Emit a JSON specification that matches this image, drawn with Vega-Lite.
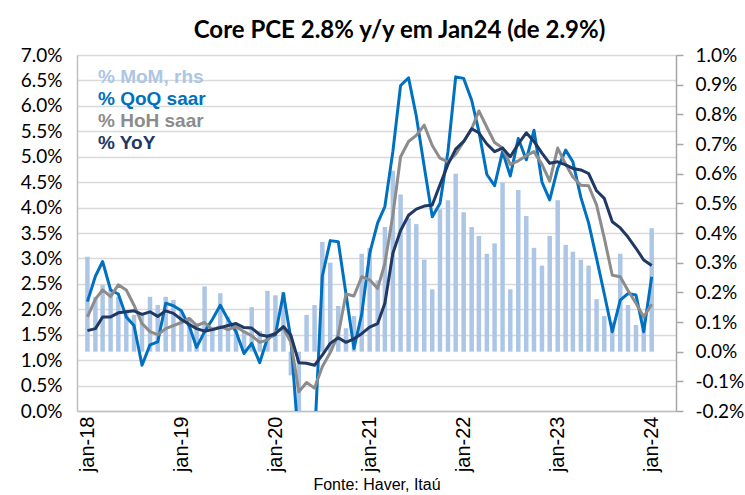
{
"$schema": "https://vega.github.io/schema/vega-lite/v6.json",
"width": 599, "height": 356,
"autosize": {"type": "none"},
"padding": {"left": 77, "top": 55, "right": 69, "bottom": 84},
"background": "white",
"config": {"view": {"stroke": null}, "font": "Lato"},
"title": {"text": "Core PCE 2.8% y/y em Jan24 (de 2.9%)", "font": "Lato", "fontSize": 24, "fontWeight": "bold", "color": "#000000", "anchor": "middle", "frame": "group", "dx": 23, "offset": 3},
"data": {"values": [
{"date":"2018-01","mom":0.32,"qoq":2.15,"hoh":1.85,"yoy":1.58},
{"date":"2018-02","mom":0.185,"qoq":2.65,"hoh":2.2,"yoy":1.62},
{"date":"2018-03","mom":0.225,"qoq":2.94,"hoh":2.38,"yoy":1.85},
{"date":"2018-04","mom":0.21,"qoq":2.38,"hoh":2.25,"yoy":1.85},
{"date":"2018-05","mom":0.185,"qoq":2.3,"hoh":2.48,"yoy":1.93},
{"date":"2018-06","mom":0.14,"qoq":1.85,"hoh":2.38,"yoy":1.95},
{"date":"2018-07","mom":0.124,"qoq":1.68,"hoh":2.08,"yoy":1.97},
{"date":"2018-08","mom":0.13,"qoq":0.9,"hoh":1.72,"yoy":1.9},
{"date":"2018-09","mom":0.185,"qoq":1.3,"hoh":1.56,"yoy":1.95},
{"date":"2018-10","mom":0.157,"qoq":1.36,"hoh":1.5,"yoy":1.86},
{"date":"2018-11","mom":0.185,"qoq":2.12,"hoh":1.62,"yoy":1.97},
{"date":"2018-12","mom":0.174,"qoq":2.07,"hoh":1.68,"yoy":1.92},
{"date":"2019-01","mom":0.135,"qoq":1.97,"hoh":1.74,"yoy":1.8},
{"date":"2019-02","mom":0.11,"qoq":1.66,"hoh":1.82,"yoy":1.7},
{"date":"2019-03","mom":0.096,"qoq":1.25,"hoh":1.68,"yoy":1.62},
{"date":"2019-04","mom":0.22,"qoq":1.56,"hoh":1.74,"yoy":1.57},
{"date":"2019-05","mom":0.084,"qoq":1.8,"hoh":1.6,"yoy":1.6},
{"date":"2019-06","mom":0.197,"qoq":2.08,"hoh":1.66,"yoy":1.64},
{"date":"2019-07","mom":0.118,"qoq":1.8,"hoh":1.6,"yoy":1.68},
{"date":"2019-08","mom":0.096,"qoq":1.56,"hoh":1.66,"yoy":1.72},
{"date":"2019-09","mom":0.067,"qoq":1.13,"hoh":1.56,"yoy":1.64},
{"date":"2019-10","mom":0.15,"qoq":1.33,"hoh":1.48,"yoy":1.63},
{"date":"2019-11","mom":0.07,"qoq":0.95,"hoh":1.35,"yoy":1.5},
{"date":"2019-12","mom":0.205,"qoq":1.43,"hoh":1.4,"yoy":1.47},
{"date":"2020-01","mom":0.19,"qoq":1.5,"hoh":1.55,"yoy":1.52},
{"date":"2020-02","mom":0.2,"qoq":2.31,"hoh":1.63,"yoy":1.66},
{"date":"2020-03","mom":-0.08,"qoq":1.42,"hoh":1.35,"yoy":1.49},
{"date":"2020-04","mom":-0.45,"qoq":-0.7,"hoh":0.38,"yoy":0.95},
{"date":"2020-05","mom":0.124,"qoq":-1.0,"hoh":0.56,"yoy":0.94},
{"date":"2020-06","mom":0.157,"qoq":-0.56,"hoh":0.45,"yoy":0.9},
{"date":"2020-07","mom":0.37,"qoq":2.65,"hoh":0.87,"yoy":1.1},
{"date":"2020-08","mom":0.30,"qoq":3.35,"hoh":1.15,"yoy":1.33},
{"date":"2020-09","mom":0.154,"qoq":3.33,"hoh":1.5,"yoy":1.44},
{"date":"2020-10","mom":0.079,"qoq":2.3,"hoh":2.3,"yoy":1.35},
{"date":"2020-11","mom":0.12,"qoq":1.23,"hoh":2.26,"yoy":1.42},
{"date":"2020-12","mom":0.33,"qoq":1.9,"hoh":2.64,"yoy":1.52},
{"date":"2021-01","mom":0.35,"qoq":3.1,"hoh":2.58,"yoy":1.65},
{"date":"2021-02","mom":0.24,"qoq":3.7,"hoh":2.41,"yoy":1.72},
{"date":"2021-03","mom":0.42,"qoq":4.02,"hoh":2.9,"yoy":2.12},
{"date":"2021-04","mom":0.61,"qoq":5.1,"hoh":3.85,"yoy":3.1},
{"date":"2021-05","mom":0.53,"qoq":6.4,"hoh":5.0,"yoy":3.55},
{"date":"2021-06","mom":0.45,"qoq":6.55,"hoh":5.3,"yoy":3.85},
{"date":"2021-07","mom":0.43,"qoq":5.8,"hoh":5.42,"yoy":3.97},
{"date":"2021-08","mom":0.31,"qoq":4.8,"hoh":5.62,"yoy":4.03},
{"date":"2021-09","mom":0.21,"qoq":3.82,"hoh":5.22,"yoy":4.05},
{"date":"2021-10","mom":0.48,"qoq":4.08,"hoh":4.97,"yoy":4.45},
{"date":"2021-11","mom":0.51,"qoq":5.1,"hoh":4.9,"yoy":4.85},
{"date":"2021-12","mom":0.60,"qoq":6.57,"hoh":5.05,"yoy":5.15},
{"date":"2022-01","mom":0.47,"qoq":6.54,"hoh":5.3,"yoy":5.3},
{"date":"2022-02","mom":0.42,"qoq":6.11,"hoh":5.55,"yoy":5.55},
{"date":"2022-03","mom":0.39,"qoq":5.5,"hoh":5.9,"yoy":5.47},
{"date":"2022-04","mom":0.33,"qoq":4.65,"hoh":5.58,"yoy":5.25},
{"date":"2022-05","mom":0.365,"qoq":4.43,"hoh":5.28,"yoy":5.1},
{"date":"2022-06","mom":0.57,"qoq":5.1,"hoh":5.17,"yoy":5.17},
{"date":"2022-07","mom":0.21,"qoq":4.62,"hoh":4.85,"yoy":5.0},
{"date":"2022-08","mom":0.545,"qoq":5.36,"hoh":4.92,"yoy":5.25},
{"date":"2022-09","mom":0.457,"qoq":4.94,"hoh":5.02,"yoy":5.47},
{"date":"2022-10","mom":0.35,"qoq":5.52,"hoh":5.1,"yoy":5.3},
{"date":"2022-11","mom":0.29,"qoq":4.5,"hoh":4.85,"yoy":5.07},
{"date":"2022-12","mom":0.39,"qoq":4.15,"hoh":4.52,"yoy":4.87},
{"date":"2023-01","mom":0.51,"qoq":4.77,"hoh":5.17,"yoy":4.9},
{"date":"2023-02","mom":0.36,"qoq":5.13,"hoh":4.85,"yoy":4.84},
{"date":"2023-03","mom":0.337,"qoq":4.9,"hoh":4.6,"yoy":4.77},
{"date":"2023-04","mom":0.31,"qoq":4.2,"hoh":4.44,"yoy":4.74},
{"date":"2023-05","mom":0.29,"qoq":3.7,"hoh":4.43,"yoy":4.67},
{"date":"2023-06","mom":0.177,"qoq":3.0,"hoh":4.05,"yoy":4.33},
{"date":"2023-07","mom":0.12,"qoq":2.3,"hoh":3.4,"yoy":4.18},
{"date":"2023-08","mom":0.10,"qoq":1.56,"hoh":2.67,"yoy":3.72},
{"date":"2023-09","mom":0.33,"qoq":2.18,"hoh":2.64,"yoy":3.6},
{"date":"2023-10","mom":0.157,"qoq":2.31,"hoh":2.37,"yoy":3.42},
{"date":"2023-11","mom":0.09,"qoq":2.28,"hoh":2.12,"yoy":3.2},
{"date":"2023-12","mom":0.12,"qoq":1.56,"hoh":1.85,"yoy":2.97},
{"date":"2024-01","mom":0.416,"qoq":2.64,"hoh":2.1,"yoy":2.86}
]},
"transform": [{"fold": ["mom", "qoq", "hoh", "yoy"], "as": ["series", "value"]}],
"layer": [
{
"transform": [{"filter": "datum.series === 'mom'"}],
"mark": {"type": "bar", "width": 4.5, "clip": true},
"encoding": {
"x": {"field": "date", "type": "temporal",
"scale": {"type": "utc", "domain": [{"year": 2017, "month": 12, "date": 11, "utc": true}, {"year": 2024, "month": 3, "date": 16, "utc": true}]},
"axis": {"values": [{"year": 2018, "month": 1, "date": 1, "utc": true}, {"year": 2019, "month": 1, "date": 1, "utc": true}, {"year": 2020, "month": 1, "date": 1, "utc": true}, {"year": 2021, "month": 1, "date": 1, "utc": true}, {"year": 2022, "month": 1, "date": 1, "utc": true}, {"year": 2023, "month": 1, "date": 1, "utc": true}, {"year": 2024, "month": 1, "date": 1, "utc": true}],
"labelExpr": "'jan-' + utcFormat(datum.value, '%y')",
"labelAngle": -90, "labelFont": "Liberation Sans", "labelFontSize": 20, "labelColor": "#000000", "labelPadding": 5,
"labelOverlap": false, "labelFlush": false, "ticks": false, "grid": false,
"domainColor": "#BFBFBF", "domainWidth": 1.5,
"title": "Fonte: Haver, Itaú", "titleFont": "Liberation Sans", "titleFontSize": 16, "titleFontWeight": "normal", "titleColor": "#000000", "titlePadding": 5}},
"y": {"field": "value", "type": "quantitative",
"scale": {"domain": [-0.2, 1.0], "nice": false},
"axis": {"orient": "right", "values": [-0.2, -0.1, 0, 0.1, 0.2, 0.3, 0.4, 0.5, 0.6, 0.7, 0.8, 0.9, 1.0],
"labelExpr": "replace(format(datum.value, '.1f'), '\u2212', '-') + '%'", "labelAlign": "left", "labelFont": "Lato", "labelFontSize": 19, "labelColor": "#000000",
"tickSize": 7, "tickColor": "#A6A6A6", "tickWidth": 1.5, "labelPadding": 12,
"domainColor": "#A6A6A6", "domainWidth": 1.5, "grid": false, "title": null}},
"color": {"field": "series", "type": "nominal",
"scale": {"domain": ["mom", "qoq", "hoh", "yoy"], "range": ["#ADC6E6", "#0070C0", "#8C8C8C", "#1F3864"]},
"legend": {"orient": "none", "legendX": 2, "legendY": 12, "title": null, "symbolSize": 0, "symbolOpacity": 0, "symbolStrokeWidth": 0, "labelOffset": 0, "padding": 0, "rowPadding": 2,
"labelFont": "Liberation Sans", "labelFontSize": 19, "labelFontWeight": "bold",
"labelExpr": "datum.label == 'mom' ? '% MoM, rhs' : datum.label == 'qoq' ? '% QoQ saar' : datum.label == 'hoh' ? '% HoH saar' : '% YoY'",
"encode": {"labels": {"update": {"fill": {"scale": "color", "field": "value"}}}}}}
}
},
{
"transform": [{"filter": "datum.series !== 'mom'"}],
"mark": {"type": "line", "strokeWidth": 3, "clip": true, "strokeJoin": "round"},
"encoding": {
"x": {"field": "date", "type": "temporal"},
"y": {"field": "value", "type": "quantitative",
"scale": {"domain": [0, 7], "nice": false},
"axis": {"orient": "left", "values": [0, 0.5, 1, 1.5, 2, 2.5, 3, 3.5, 4, 4.5, 5, 5.5, 6, 6.5, 7],
"labelExpr": "format(datum.value, '.1f') + '%'", "labelFont": "Lato", "labelFontSize": 19, "labelColor": "#000000",
"ticks": false, "labelPadding": 15, "domainColor": "#BFBFBF", "domainWidth": 1.5,
"grid": true, "gridColor": "#D9D9D9", "gridWidth": 1.5, "title": null}},
"color": {"field": "series", "type": "nominal"}
}
}
],
"resolve": {"scale": {"y": "independent"}}
}
